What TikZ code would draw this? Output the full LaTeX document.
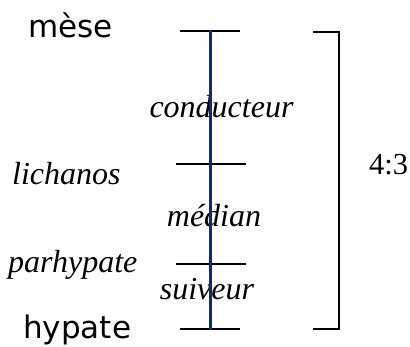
\documentclass[tikz,border=0pt]{standalone}
\usepackage{fontspec}
\setmainfont{Liberation Serif}
\newfontfamily\dvsans{DejaVu Sans}
\definecolor{navy}{RGB}{16,42,110}
\begin{document}
\begin{tikzpicture}[x=1pt,y=-1pt,
  tick/.style={draw=black,line width=2pt},
  axis/.style={draw=navy,line width=3pt},
  bracketline/.style={draw=black,line width=2pt},
  sanslabel/.style={inner sep=0pt,font=\dvsans\fontsize{31}{36}\selectfont},
  itlabel/.style={inner sep=0pt,font=\itshape\fontsize{32}{36}\selectfont},
  ratiolabel/.style={inner sep=0pt,font=\fontsize{30.5}{36}\selectfont}]
\useasboundingbox (0,0) rectangle (410,347);
% tick end points
\coordinate (m1) at (180,31);
\coordinate (m2) at (240,31);
\coordinate (l1) at (176,164);
\coordinate (l2) at (246,164);
\coordinate (p1) at (176,264);
\coordinate (p2) at (246,264);
\coordinate (h1) at (180,329);
\coordinate (h2) at (240,329);
\coordinate (atop) at (210,30);
\coordinate (abot) at (210,330);
\coordinate (b1) at (313,32);
\coordinate (b2) at (339,32);
\coordinate (b3) at (339,329);
\coordinate (b4) at (313,329);
% ticks
\draw[tick] (m1) -- (m2);
\draw[tick] (l1) -- (l2);
\draw[tick] (p1) -- (p2);
\draw[tick] (h1) -- (h2);
% labels
\node[itlabel,anchor=base] (cond) at (221.5,118) {conducteur};
\node[itlabel,anchor=base] (med) at (214,227) {médian};
\node[itlabel,anchor=base] (suiv) at (207,300) {suiveur};
% axis
\draw[axis] (atop) -- (abot);
% bracket
\draw[bracketline] (b1) -- (b2) -- (b3) -- (b4);
\node[sanslabel,anchor=base west] (mese) at (28,38) {mèse};
\node[sanslabel,anchor=base west] (hyp) at (23,339) {hypate};
\node[itlabel,anchor=base west] (lich) at (12,185) {lichanos};
\node[itlabel,anchor=base west] (parh) at (8,273) {parhypate};
\node[ratiolabel,anchor=base west] (ratio) at (369,175) {4:3};
\end{tikzpicture}
\end{document}
